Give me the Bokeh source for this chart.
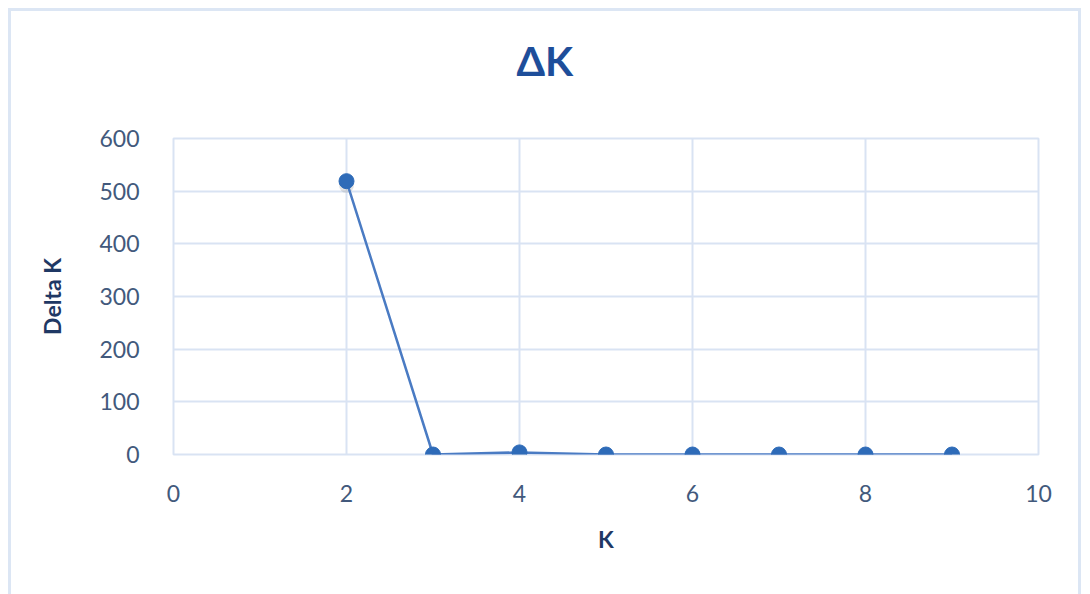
from bokeh.plotting import figure
from bokeh.models import ColumnDataSource, SingleIntervalTicker, Range1d, Title
from bokeh.transform import dodge
from bokeh.embed import file_html
from bokeh.resources import INLINE

# Delta K statistic for each number of clusters K
k_values = [2, 3, 4, 5, 6, 7, 8, 9]
delta_k = [519, 0, 4, 0, 0, 0, 0, 0]

title_text = "ΔK"
x_label = "K"
y_label = "Delta K"

FONT = "Lato"
GRID = "#D9E3F3"
TICK_COLOR = "#42597C"
LABEL_COLOR = "#1F3864"
LINE_COLOR = "#4A7BC3"
MARKER_COLOR = "#2E6BB8"
CHART_BORDER = "#DCE6F4"

src = ColumnDataSource(dict(k=k_values, d=delta_k))

# the chart sits 8px in from the page corner, framed by a thin light border
p = figure(
    width=1073, height=586,
    x_range=Range1d(0, 10), y_range=Range1d(0, 600),
    output_backend="svg", toolbar_location=None,
    min_border_left=162, min_border_right=46,
    min_border_top=127, min_border_bottom=143,
    background_fill_color="white", border_fill_color="white",
)
p.styles = {
    "margin-left": "8px",
    "margin-top": "8px",
    "border-left": f"3px solid {CHART_BORDER}",
    "border-top": f"3px solid {CHART_BORDER}",
    "border-right": f"3px solid {CHART_BORDER}",
}

# title, centred over the whole chart rather than the plot frame
p.title.text = title_text
p.title.align = "left"
p.title.offset = 343
p.title.text_font = FONT
p.title.text_font_size = "41px"
p.title.text_font_style = "bold"
p.title.text_color = "#1E4E9A"
p.title.standoff = 0

# blank spacer between the title and the plot frame
p.add_layout(Title(text=" ", text_font_size="1px", standoff=51), "above")

# frame and grid
p.outline_line_color = GRID
p.outline_line_width = 2
p.xgrid.ticker = SingleIntervalTicker(interval=2)
p.ygrid.ticker = SingleIntervalTicker(interval=100)
for g in (p.xgrid, p.ygrid):
    g.grid_line_color = GRID
    g.grid_line_width = 2

# axes
p.xaxis.ticker = SingleIntervalTicker(interval=2)
p.yaxis.ticker = SingleIntervalTicker(interval=100)
for ax in (p.xaxis, p.yaxis):
    ax.axis_line_color = None
    ax.major_tick_line_color = None
    ax.minor_tick_line_color = None
    ax.major_label_text_font = FONT
    ax.major_label_text_font_size = "23px"
    ax.major_label_text_color = TICK_COLOR
    ax.axis_label_text_font = FONT
    ax.axis_label_text_font_size = "23px"
    ax.axis_label_text_font_style = "bold"
    ax.axis_label_text_color = LABEL_COLOR
p.xaxis.axis_label = x_label
p.yaxis.axis_label = y_label
p.xaxis.major_label_standoff = 24
p.xaxis.axis_label_standoff = 20
p.yaxis.major_label_standoff = 28
p.yaxis.axis_label_standoff = 30

# soft shadow under the markers
p.scatter(x="k", y=dodge("d", -8, range=p.y_range), source=src, size=15,
          marker="circle", fill_color="#808080", fill_alpha=0.22, line_color=None)
p.line(x="k", y="d", source=src, line_color=LINE_COLOR, line_width=2.5)
p.scatter(x="k", y="d", source=src, size=15, marker="circle",
          fill_color=MARKER_COLOR, line_color=MARKER_COLOR)

open("out.html", "w").write(file_html(p, INLINE))
